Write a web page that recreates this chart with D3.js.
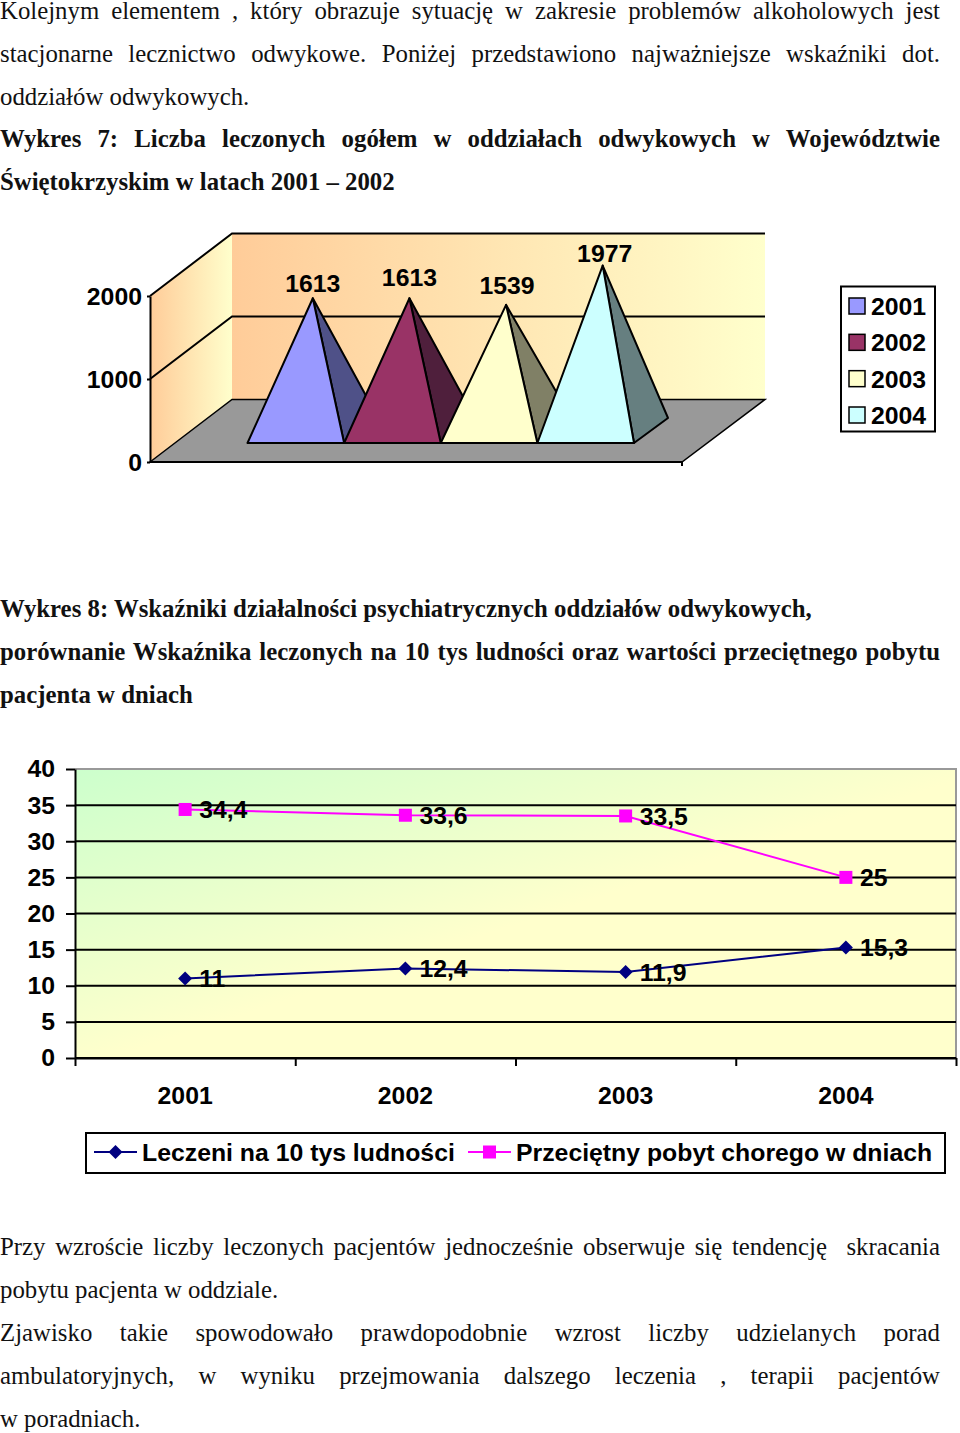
<!DOCTYPE html>
<html>
<head>
<meta charset="utf-8">
<style>
body { margin: 0; background: #fff; }
#page { position: relative; width: 960px; height: 1433px; overflow: hidden; }
svg { position: absolute; left: 0; top: 0; }
svg text { font-family: "Liberation Sans", Arial, sans-serif; font-weight: bold; font-size: 24.8px; fill: #000; }
.line { position: absolute; left: 0; width: 940px; height: 22px; line-height: 22px; font-family: "Liberation Serif", "Times New Roman", serif; font-size: 24.8px; color: #111; white-space: pre-wrap; }
.line.just { text-align: justify; text-align-last: justify; }
.line.bold { font-weight: bold; }
</style>
</head>
<body>
<div id="page"><svg width="960" height="1433"></svg></div>
<script src="https://cdnjs.cloudflare.com/ajax/libs/d3/7.8.5/d3.min.js"></script>
<script>
// text of the page: [text, centre y, justified, bold]
const textLines = [
  ["Kolejnym elementem , który obrazuje sytuację w zakresie problemów alkoholowych jest", 11, true, false],
  ["stacjonarne lecznictwo odwykowe. Poniżej przedstawiono najważniejsze wskaźniki dot.", 54, true, false],
  ["oddziałów odwykowych.", 97, false, false],
  ["Wykres 7: Liczba leczonych ogółem w oddziałach odwykowych w Województwie", 139, true, true],
  ["Świętokrzyskim w latach 2001 – 2002", 182, false, true],
  ["Wykres 8: Wskaźniki działalności psychiatrycznych oddziałów odwykowych,", 609, false, true],
  ["porównanie Wskaźnika leczonych na 10 tys ludności oraz wartości przeciętnego pobytu", 652, true, true],
  ["pacjenta w dniach", 695, false, true],
  ["Przy wzroście liczby leczonych pacjentów jednocześnie obserwuje się tendencję  skracania", 1247, true, false],
  ["pobytu pacjenta w oddziale.", 1290, false, false],
  ["Zjawisko takie spowodowało prawdopodobnie wzrost liczby udzielanych porad", 1333, true, false],
  ["ambulatoryjnych, w wyniku przejmowania dalszego leczenia , terapii pacjentów", 1376, true, false],
  ["w poradniach.", 1419, false, false]
];

// chart 7
const years = ["2001", "2002", "2003", "2004"];
const treated = [1613, 1613, 1539, 1977];
const pyramidColors = ["#9999ff", "#993366", "#ffffcc", "#ccffff"];
const pyramidSides = ["#4f5188", "#4f1f3c", "#808066", "#667f80"];
const labelLift = [15, 21, 20, 12];
const labelShift = [0, 0, 1, 2];

// chart 8
const patientsPer10k = [11, 12.4, 11.9, 15.3];
const avgStay = [34.4, 33.6, 33.5, 25];
const yTicks = [0, 5, 10, 15, 20, 25, 30, 35, 40];
const fmt = d => String(d).replace(".", ",");

d3.select("#page").selectAll("div.line")
  .data(textLines)
  .enter().append("div")
    .attr("class", d => "line" + (d[2] ? " just" : "") + (d[3] ? " bold" : ""))
    .style("top", d => (d[1] - 11) + "px")
    .text(d => d[0]);

const svg = d3.select("svg");
const defs = svg.append("defs");

function gradient(id, x1, y1, x2, y2, c1, c2) {
  const g = defs.append("linearGradient").attr("id", id)
    .attr("x1", x1).attr("y1", y1).attr("x2", x2).attr("y2", y2);
  g.append("stop").attr("offset", "0%").attr("stop-color", c1);
  g.append("stop").attr("offset", "100%").attr("stop-color", c2);
}
gradient("wallGrad", 0, 0, 1, 0, "#ffcc99", "#ffffcc");
gradient("plotGrad", 0, 0, 0.52, 0.52, "#ccffcc", "#ffffcc");

/* ---------- Wykres 7 ---------- */
const frontX = 150, backX = 232, rightX = 765, frontRight = 682;
const wallDy = 62.5;

const y7 = d3.scaleLinear().domain([0, 2000]).range([462, 296]);
const yPyr = d3.scaleLinear().domain([0, 2000]).range([443, 263.5]);
const xPyr = d3.scaleBand().domain(years).range([247.5, 634]);
const depthX = 34, depthY = -25;

const chart7 = svg.append("g");

// walls and floor
chart7.append("polygon")
  .attr("points", [[backX, y7(2000) - wallDy], [rightX, y7(2000) - wallDy], [rightX, y7(0) - wallDy], [backX, y7(0) - wallDy]].join(" "))
  .attr("fill", "url(#wallGrad)");
chart7.append("polygon")
  .attr("points", [[frontX, y7(2000)], [backX, y7(2000) - wallDy], [backX, y7(0) - wallDy], [frontX, y7(0)]].join(" "))
  .attr("fill", "url(#wallGrad)");
chart7.append("polygon")
  .attr("points", [[frontX, y7(0)], [backX, y7(0) - wallDy], [rightX, y7(0) - wallDy], [frontRight, y7(0)]].join(" "))
  .attr("fill", "#999999")
  .attr("stroke", "#000").attr("stroke-width", 1.5);

// gridlines on the walls
chart7.selectAll("path.grid")
  .data([1000, 2000])
  .enter().append("path")
    .attr("class", "grid")
    .attr("fill", "none").attr("stroke", "#000").attr("stroke-width", 2)
    .attr("d", d => d3.line()([[frontX, y7(d)], [backX, y7(d) - wallDy], [rightX, y7(d) - wallDy]]));

// axes
const axis7 = chart7.append("g")
  .attr("transform", `translate(${frontX},0)`)
  .call(d3.axisLeft(y7).tickValues([0, 1000, 2000]).tickFormat(d3.format("d")).tickSize(3).tickPadding(5).tickSizeOuter(0));
axis7.attr("font-family", null).attr("font-size", null);
axis7.select(".domain").attr("stroke", "#000").attr("stroke-width", 2);
axis7.selectAll(".tick line").attr("stroke", "#000").attr("stroke-width", 2);
axis7.selectAll("text").attr("dy", ".34em");
chart7.append("path").attr("d", `M${frontX},${y7(0)}H${frontRight}V${y7(0) + 4}`)
  .attr("fill", "none").attr("stroke", "#000").attr("stroke-width", 2);

// pyramids
const pyramids = chart7.selectAll("g.pyramid")
  .data(years)
  .enter().append("g").attr("class", "pyramid");

const apexX = d => xPyr(d) + xPyr.bandwidth() / 2 + depthX / 2;
const val = (d, i) => yPyr(treated[i]);

pyramids.append("polygon")
  .attr("points", (d, i) => [[apexX(d), val(d, i)], [xPyr(d) + xPyr.bandwidth(), yPyr(0)], [xPyr(d) + xPyr.bandwidth() + depthX, yPyr(0) + depthY]].join(" "))
  .attr("fill", (d, i) => pyramidSides[i])
  .attr("stroke", "#000").attr("stroke-width", 2).attr("stroke-linejoin", "round");
pyramids.append("polygon")
  .attr("points", (d, i) => [[apexX(d), val(d, i)], [xPyr(d), yPyr(0)], [xPyr(d) + xPyr.bandwidth(), yPyr(0)]].join(" "))
  .attr("fill", (d, i) => pyramidColors[i])
  .attr("stroke", "#000").attr("stroke-width", 2).attr("stroke-linejoin", "round");

chart7.selectAll("text.pyrLabel")
  .data(treated)
  .enter().append("text")
    .attr("class", "pyrLabel")
    .attr("text-anchor", "middle")
    .attr("x", (d, i) => apexX(years[i]) + labelShift[i])
    .attr("y", (d, i) => yPyr(d) - labelLift[i])
    .attr("dy", ".36em")
    .text(d => d);

// legend 7
chart7.append("rect")
  .attr("x", 841).attr("y", 286.5).attr("width", 94).attr("height", 145)
  .attr("fill", "#fff").attr("stroke", "#000").attr("stroke-width", 2);
const legY7 = d3.scalePoint().domain(years).range([306, 415]);
const leg7 = chart7.selectAll("g.leg7")
  .data(years)
  .enter().append("g").attr("class", "leg7")
    .attr("transform", d => `translate(849,${legY7(d)})`);
leg7.append("rect")
  .attr("x", 0).attr("y", -8).attr("width", 16).attr("height", 16)
  .attr("fill", (d, i) => pyramidColors[i])
  .attr("stroke", "#000").attr("stroke-width", 1.5);
leg7.append("text")
  .attr("x", 22).attr("dy", ".36em")
  .text(d => d);

/* ---------- Wykres 8 ---------- */
const x8 = d3.scaleBand().domain(years).range([75, 956]);
const y8 = d3.scaleLinear().domain([0, 40]).range([1058, 769]);
const xTicks8 = d3.scaleLinear().domain([0, 4]).range([75, 956]);

const chart8 = svg.append("g");

chart8.append("rect")
  .attr("x", 75).attr("y", y8(40)).attr("width", 881).attr("height", y8(0) - y8(40))
  .attr("fill", "url(#plotGrad)");
chart8.append("path")
  .attr("d", `M75,${y8(40)}H956V${y8(0)}`)
  .attr("fill", "none").attr("stroke", "#999").attr("stroke-width", 2);

// y axis with gridlines
const yAxis8 = chart8.append("g")
  .attr("transform", "translate(75,0)")
  .call(d3.axisLeft(y8).tickValues(yTicks).tickSize(9).tickPadding(11).tickSizeOuter(0));
yAxis8.attr("font-family", null).attr("font-size", null);
yAxis8.selectAll("text").attr("dy", ".32em");
yAxis8.select(".domain").attr("stroke", "#000").attr("stroke-width", 2);
yAxis8.selectAll(".tick line").attr("stroke", "#000").attr("stroke-width", 2);
chart8.selectAll("line.grid")
  .data(yTicks.slice(0, -1))
  .enter().append("line")
    .attr("class", "grid")
    .attr("x1", 75).attr("x2", 956)
    .attr("y1", d => y8(d)).attr("y2", d => y8(d))
    .attr("stroke", "#000").attr("stroke-width", 2);

// x axis: ticks between categories, labels at their centres
const xAxisTicks = chart8.append("g")
  .attr("transform", `translate(0,${y8(0)})`)
  .call(d3.axisBottom(xTicks8).ticks(4).tickSize(8).tickFormat("").tickSizeOuter(0));
xAxisTicks.select(".domain").attr("stroke", "#000").attr("stroke-width", 2);
xAxisTicks.selectAll(".tick line").attr("stroke", "#000").attr("stroke-width", 2);
const xAxisLabels = chart8.append("g")
  .attr("transform", `translate(0,${y8(0)})`)
  .call(d3.axisBottom(x8).tickSize(0).tickPadding(28).tickSizeOuter(0));
xAxisLabels.attr("font-family", null).attr("font-size", null);
xAxisLabels.select(".domain").remove();

const cx = d => x8(d) + x8.bandwidth() / 2;
const line8 = d3.line().x((d, i) => cx(years[i])).y(d => y8(d));
const series8 = [
  { values: patientsPer10k, color: "#000080" },
  { values: avgStay, color: "#ff00ff" }
];
const markers = {
  navy: p => p.append("path").attr("d", d3.symbol().type({ draw(c) { c.moveTo(0, -7); c.lineTo(7, 0); c.lineTo(0, 7); c.lineTo(-7, 0); c.closePath(); } })()).attr("fill", "#000080"),
  pink: p => p.append("rect").attr("x", -6.5).attr("y", -6.5).attr("width", 13).attr("height", 13).attr("fill", "#ff00ff")
};

series8.forEach((s, k) => {
  const g = chart8.append("g");
  g.append("path")
    .attr("d", line8(s.values))
    .attr("fill", "none").attr("stroke", s.color).attr("stroke-width", 2);
  const pts = g.selectAll("g.pt")
    .data(s.values)
    .enter().append("g").attr("class", "pt")
      .attr("transform", (d, i) => `translate(${cx(years[i])},${y8(d)})`);
  (k === 0 ? markers.navy : markers.pink)(pts);
  pts.append("text")
    .attr("x", 14).attr("dy", ".36em")
    .text(fmt);
});

// legend 8
chart8.append("rect")
  .attr("x", 86).attr("y", 1133).attr("width", 859).attr("height", 40)
  .attr("fill", "#fff").attr("stroke", "#000").attr("stroke-width", 2);
const legend8 = [
  { name: "Leczeni na 10 tys ludności", color: "#000080", x: 94, marker: markers.navy },
  { name: "Przeciętny pobyt chorego w dniach", color: "#ff00ff", x: 468, marker: markers.pink }
];
legend8.forEach(l => {
  const g = chart8.append("g").attr("transform", `translate(${l.x},1152)`);
  g.append("line").attr("x1", 0).attr("x2", 43).attr("stroke", l.color).attr("stroke-width", 2);
  l.marker(g.append("g").attr("transform", "translate(21.5,0)"));
  g.append("text").attr("x", 48).attr("dy", ".36em").text(l.name);
});
</script>
</body>
</html>
